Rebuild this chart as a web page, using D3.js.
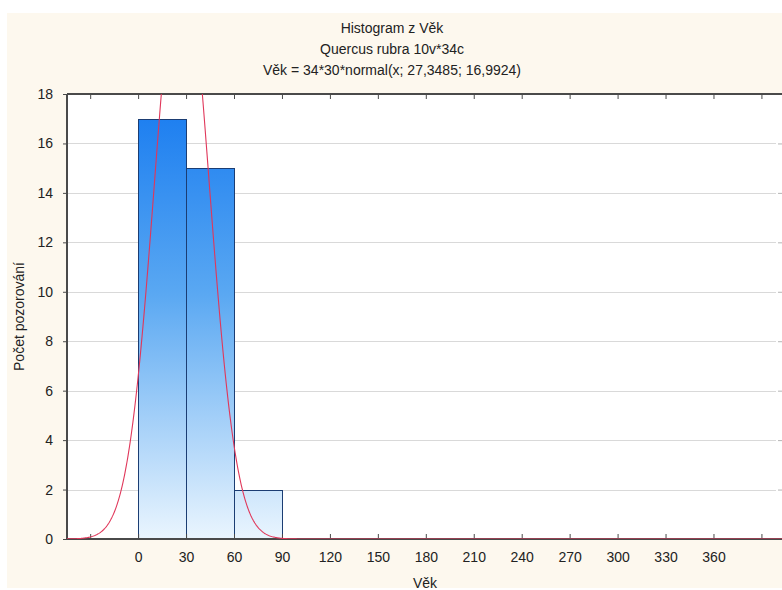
<!DOCTYPE html>
<html>
<head>
<meta charset="utf-8">
<script src="https://cdn.jsdelivr.net/npm/d3@7"></script>
<style>
  html, body { margin: 0; padding: 0; background: #ffffff; }
  svg { display: block; }
  text { font-family: "Liberation Sans", Arial, sans-serif; fill: #222; }
</style>
</head>
<body>
<svg id="chart" width="782" height="590"></svg>
<script>
// Histogram bins (Věk) and observed counts
const binStarts = [0, 30, 60];
const binWidth = 30;
const counts = [17, 15, 2];

// Fitted normal curve parameters: N * binWidth * normal(x; mean; sd)
const nObs = 34;
const fitMean = 27.3485;
const fitSd = 16.9924;

// Axis ticks
const xTickValues = [-30, 0, 30, 60, 90, 120, 150, 180, 210, 240, 270, 300, 330, 360, 390];
const xTickLabels = ["", "0", "30", "60", "90", "120", "150", "180", "210", "240", "270", "300", "330", "360", ""];
const yTickValues = [0, 2, 4, 6, 8, 10, 12, 14, 16, 18];

const titleLines = [
  "Histogram z Věk",
  "Quercus rubra 10v*34c",
  "Věk = 34*30*normal(x; 27,3485; 16,9924)"
];
const xTitle = "Věk";
const yTitle = "Počet pozorování";

const svg = d3.select("#chart");
const W = 782, H = 590;
// the plot frame runs slightly past the right edge of the canvas
const plot = { left: 67, right: 783, frameRight: 786, top: 94, bottom: 539 };

// panel background
svg.append("rect")
  .attr("x", 7).attr("y", 13).attr("width", W - 7).attr("height", 575)
  .attr("fill", "#fdf8ee");

const x = d3.scaleLinear().domain([-44.5, 403.5]).range([plot.left, plot.right]);
const y = d3.scaleLinear().domain([0, 18]).range([plot.bottom, plot.top]);

svg.append("rect")
  .attr("x", plot.left).attr("y", plot.top)
  .attr("width", plot.frameRight - plot.left).attr("height", plot.bottom - plot.top)
  .attr("fill", "#ffffff");

const defs = svg.append("defs");
const grad = defs.append("linearGradient")
  .attr("id", "barFill")
  .attr("gradientUnits", "userSpaceOnUse")
  .attr("x1", 0).attr("x2", 0)
  .attr("y1", y(18)).attr("y2", y(0));
grad.append("stop").attr("offset", "0%").attr("stop-color", "#167af0");
grad.append("stop").attr("offset", "45%").attr("stop-color", "#5aa8f2");
grad.append("stop").attr("offset", "100%").attr("stop-color", "#eaf5fe");

defs.append("clipPath").attr("id", "plotClip")
  .append("rect")
  .attr("x", plot.left).attr("y", plot.top)
  .attr("width", plot.frameRight - plot.left).attr("height", plot.bottom - plot.top);

// horizontal gridlines
svg.append("g")
  .selectAll("line")
  .data(yTickValues.filter(v => v > 0 && v < 18))
  .join("line")
  .attr("x1", plot.left).attr("x2", plot.right - 7)
  .attr("y1", d => Math.round(y(d)) + 0.5).attr("y2", d => Math.round(y(d)) + 0.5)
  .attr("stroke", "#d9d9d9").attr("stroke-width", 1);

// bars
svg.append("g")
  .selectAll("rect")
  .data(counts)
  .join("rect")
  .attr("x", (d, i) => Math.round(x(binStarts[i])) + 0.5)
  .attr("y", d => Math.round(y(d)) + 0.5)
  .attr("width", (d, i) => Math.round(x(binStarts[i] + binWidth)) - Math.round(x(binStarts[i])))
  .attr("height", d => Math.round(y(0)) - Math.round(y(d)))
  .attr("fill", "url(#barFill)")
  .attr("stroke", "#1b3d73").attr("stroke-width", 1);

// axes frame
const axisColor = "#4a4a4a";
const axisG = svg.append("g");
axisG.append("line")
  .attr("x1", plot.left).attr("x2", plot.frameRight)
  .attr("y1", plot.top).attr("y2", plot.top)
  .attr("stroke", axisColor).attr("stroke-width", 2);
axisG.append("line")
  .attr("x1", plot.left).attr("x2", plot.frameRight)
  .attr("y1", plot.bottom).attr("y2", plot.bottom)
  .attr("stroke", axisColor).attr("stroke-width", 2);
axisG.append("line")
  .attr("x1", plot.left).attr("x2", plot.left)
  .attr("y1", plot.top).attr("y2", plot.bottom)
  .attr("stroke", axisColor).attr("stroke-width", 2);

// x axis: bottom ticks (inward) with labels
const xAxisBottom = d3.axisBottom(x)
  .tickValues(xTickValues)
  .tickSize(-5)
  .tickPadding(13)
  .tickFormat((d, i) => xTickLabels[i]);
const gxb = svg.append("g")
  .attr("transform", `translate(0,${plot.bottom})`)
  .call(xAxisBottom);
gxb.select(".domain").remove();
gxb.selectAll(".tick line").attr("stroke", axisColor);
gxb.selectAll(".tick text")
  .attr("font-size", 14)
  .style("font-family", "'Liberation Sans', Arial, sans-serif")
  .attr("fill", "#222");

// x axis: top ticks (inward), no labels
const gxt = svg.append("g")
  .attr("transform", `translate(0,${plot.top})`)
  .call(d3.axisTop(x).tickValues(xTickValues).tickSize(-5).tickFormat(""));
gxt.select(".domain").remove();
gxt.selectAll(".tick line").attr("stroke", axisColor);

// y axis: left ticks with labels
const gyl = svg.append("g")
  .attr("transform", `translate(${plot.left},0)`)
  .call(d3.axisLeft(y).tickValues(yTickValues).tickSize(4).tickPadding(10).tickFormat(d3.format("d")));
gyl.select(".domain").remove();
gyl.selectAll(".tick line").attr("stroke", axisColor);
gyl.selectAll(".tick text")
  .attr("font-size", 14)
  .style("font-family", "'Liberation Sans', Arial, sans-serif")
  .attr("fill", "#222");

// y axis: right ticks (inward) on the off-canvas frame edge
const gyr = svg.append("g")
  .attr("transform", `translate(${plot.frameRight},0)`)
  .call(d3.axisRight(y).tickValues(yTickValues.filter(v => v > 0 && v < 18)).tickSize(-8).tickFormat(""));
gyr.select(".domain").remove();
gyr.selectAll(".tick line").attr("stroke", "#b5b5b5");

// fitted normal curve
const pdf = v => Math.exp(-0.5 * ((v - fitMean) / fitSd) ** 2) / (fitSd * Math.sqrt(2 * Math.PI));
const curveX = d3.range(x.domain()[0], x.domain()[1] + 2, 0.5);
const line = d3.line()
  .x(d => x(d))
  .y(d => y(nObs * binWidth * pdf(d)));
svg.append("path")
  .datum(curveX)
  .attr("clip-path", "url(#plotClip)")
  .attr("d", line)
  .attr("fill", "none")
  .attr("stroke", "#e0375a")
  .attr("stroke-width", 1.1);

// titles
svg.append("g")
  .selectAll("text")
  .data(titleLines)
  .join("text")
  .attr("x", 392)
  .attr("y", (d, i) => 33 + i * 21)
  .attr("text-anchor", "middle")
  .attr("font-size", 14)
  .text(d => d);

// axis titles
svg.append("text")
  .attr("x", (plot.left + plot.right) / 2)
  .attr("y", 588)
  .attr("text-anchor", "middle")
  .attr("font-size", 14)
  .text(xTitle);

svg.append("text")
  .attr("transform", `translate(24,${(plot.top + plot.bottom) / 2}) rotate(-90)`)
  .attr("text-anchor", "middle")
  .attr("font-size", 14)
  .text(yTitle);
</script>
</body>
</html>
